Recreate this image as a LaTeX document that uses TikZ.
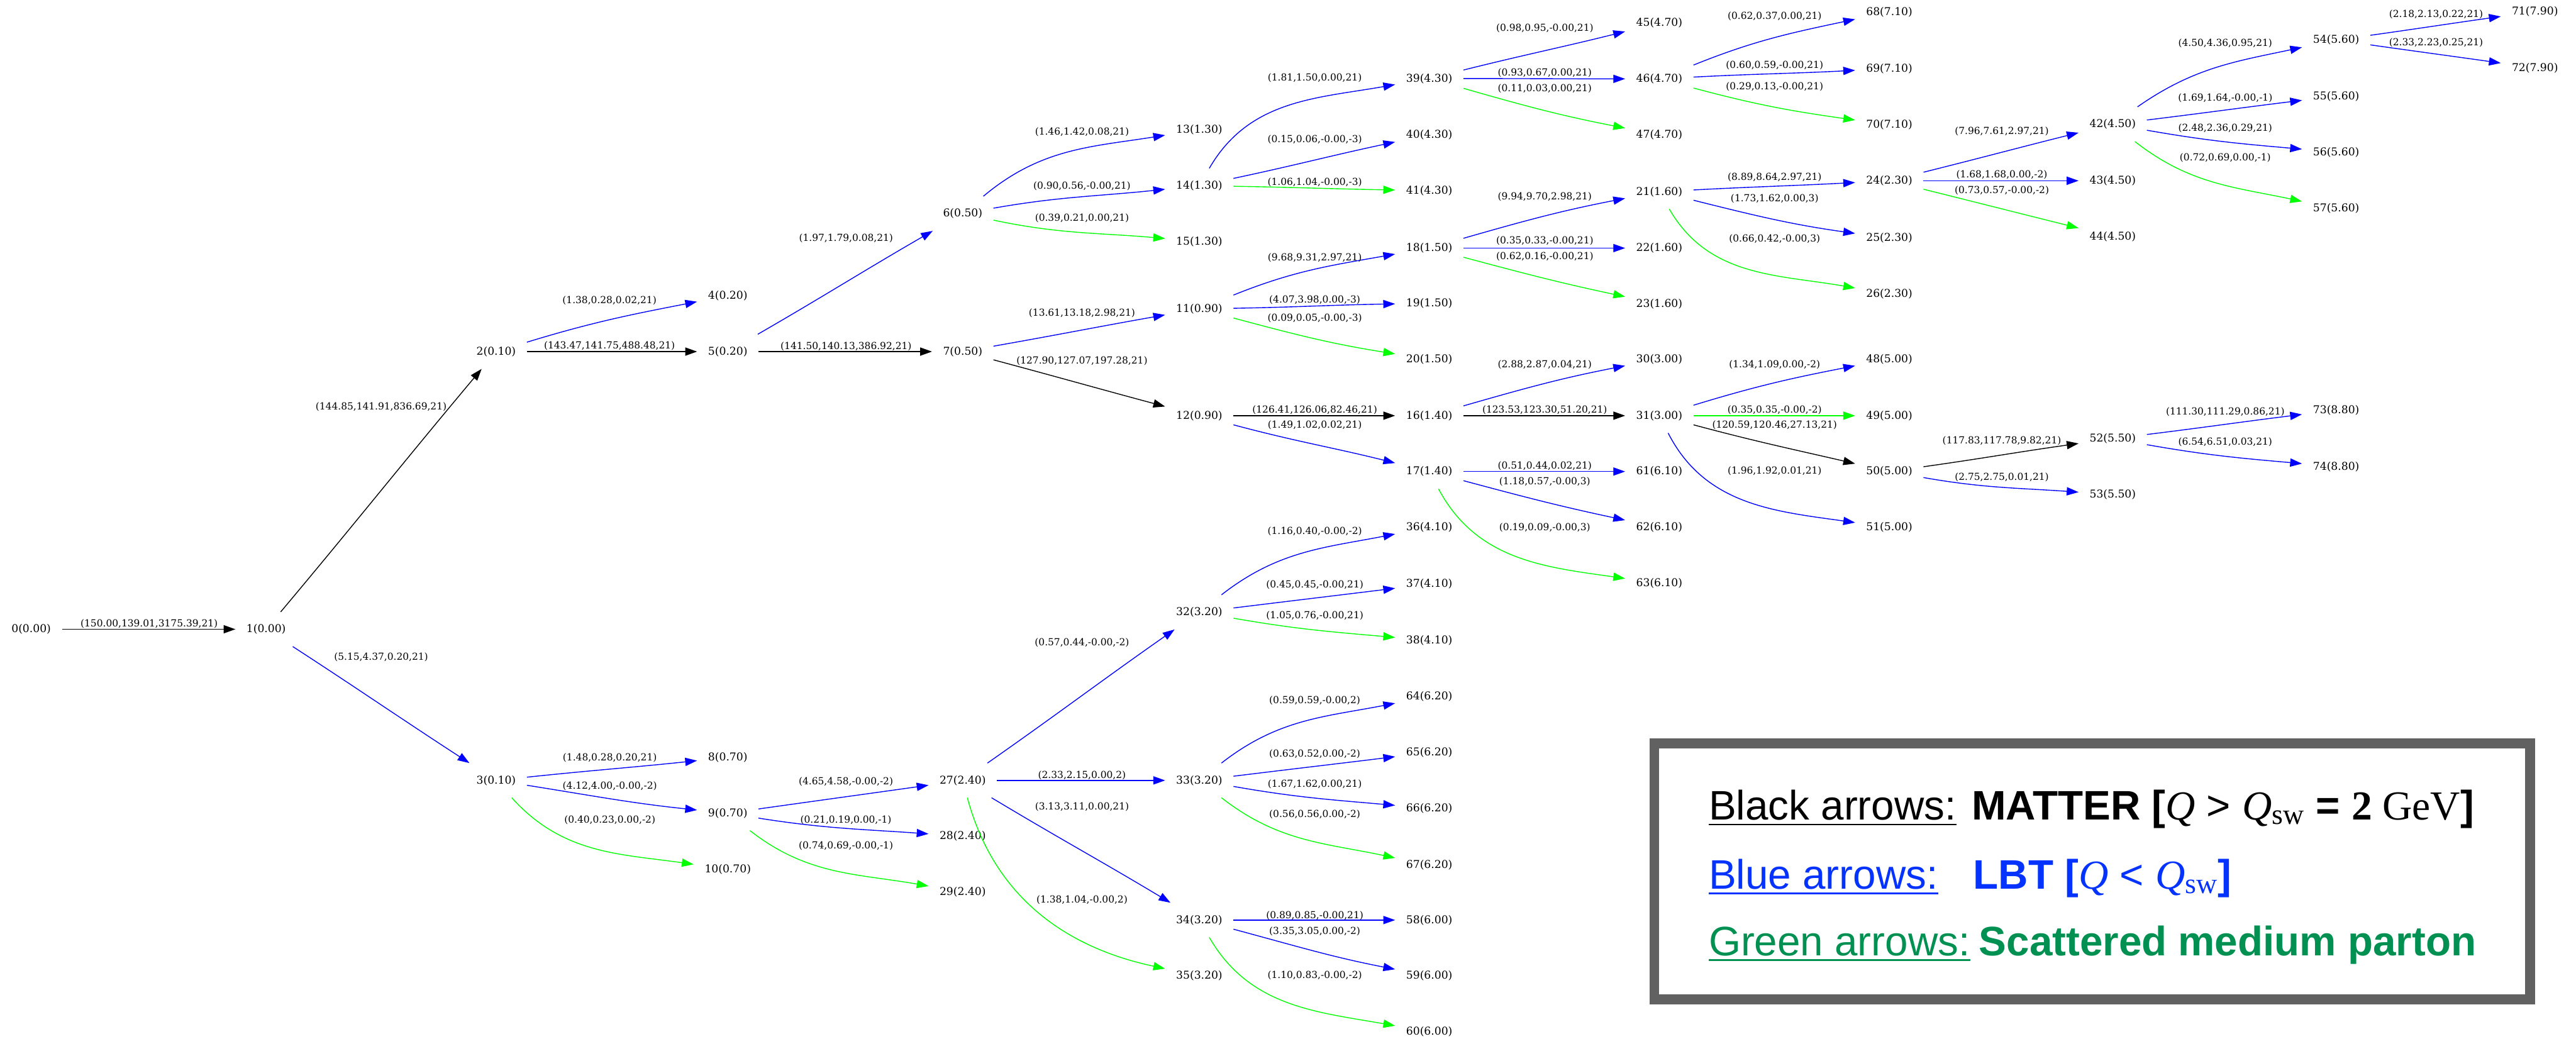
\documentclass[tikz,border=0pt]{standalone}
\usepackage{fontspec}
\setmainfont{Liberation Serif}
\setsansfont{Liberation Sans}
\newfontfamily\gvfont{DejaVu Serif}
\usetikzlibrary{arrows.meta,calc}

\definecolor{lgray}{RGB}{97,97,97}
\definecolor{lblue}{RGB}{4,51,255}
\definecolor{lgreen}{RGB}{0,144,81}

\tikzset{
  nd/.style={font=\gvfont\fontsize{9.35}{11}\selectfont, inner xsep=0.33cm, inner ysep=0.37cm},
  lab/.style={font=\gvfont\fontsize{8.4}{10}\selectfont, inner sep=0pt},
  edge/.style={line width=0.75pt, -{Triangle[length=0.36cm,width=0.25cm]}},
  lgd/.style={font=\sffamily\fontsize{35.7}{40}\selectfont, inner sep=0pt, anchor=base west},
  uline/.style={line width=1.3pt}
}

\begin{document}
\begin{tikzpicture}[x=0.05cm,y=0.05cm]
\useasboundingbox (0,0) rectangle (1568,-632.1);

% partons: id/x/y/time
\foreach \nn/\nx/\ny/\tm in {0/19/383/0.00, 1/162/383/0.00, 2/302/214/0.10, 3/302/475/0.10,
  4/443/180/0.20, 5/443/214/0.20, 6/586/130/0.50, 7/586/214/0.50, 8/443/461/0.70,
  9/443/495/0.70, 10/443/529/0.70, 11/730/188/0.90, 12/730/253/0.90, 13/730/79/1.30,
  14/730/113/1.30, 15/730/147/1.30, 16/870/253/1.40, 17/870/287/1.40, 18/870/151/1.50,
  19/870/184.6/1.50, 20/870/218.7/1.50, 21/1010/116.7/1.60, 22/1010/151/1.60,
  23/1010/185/1.60, 24/1150/110/2.30, 25/1150/145/2.30, 26/1150/179/2.30,
  27/586/475/2.40, 28/586/509/2.40, 29/586/543/2.40, 30/1010/218.6/3.00,
  31/1010/253/3.00, 32/730/372.6/3.20, 33/730/475/3.20, 34/730/560/3.20,
  35/730/594/3.20, 36/870/321/4.10, 37/870/355.5/4.10, 38/870/389.8/4.10,
  39/870/47.8/4.30, 40/870/82/4.30, 41/870/116/4.30, 42/1286/75.6/4.50,
  43/1286/110/4.50, 44/1286/144/4.50, 45/1010/14/4.70, 46/1010/48/4.70,
  47/1010/82/4.70, 48/1150/218.6/5.00, 49/1150/253/5.00, 50/1150/287/5.00,
  51/1150/321/5.00, 52/1286/267/5.50, 53/1286/301/5.50, 54/1422/24.4/5.60,
  55/1422/58.5/5.60, 56/1422/92.6/5.60, 57/1422/127/5.60, 58/870/560/6.00,
  59/870/594/6.00, 60/870/628/6.00, 61/1010/287/6.10, 62/1010/321/6.10,
  63/1010/355/6.10, 64/870/424/6.20, 65/870/458/6.20, 66/870/492/6.20,
  67/870/526.6/6.20, 68/1150/7.3/7.10, 69/1150/41.7/7.10, 70/1150/76/7.10,
  71/1543/7.1/7.90, 72/1543/41.3/7.90, 73/1422/249.7/8.80, 74/1422/284/8.80}
  \node[nd] (n\nn) at (\nx,-\ny) {\nn(\tm)};

% splittings: from/to/colour/out/in/label x/label y/label
\foreach \pa/\ch/\cl/\ao/\ai/\lx/\ly/\lt in {
  0/1/black/0/180/90.8/379.5/{(150.00,139.01,3175.39,21)},
  1/2/black/50/230/232/247.8/{(144.85,141.91,836.69,21)},
  1/3/blue/-33/147/232/400/{(5.15,4.37,0.20,21)},
  2/4/blue/17/191/371/183/{(1.38,0.28,0.02,21)},
  2/5/black/0/180/371/210.5/{(143.47,141.75,488.48,21)},
  5/6/blue/30/210/515/145/{(1.97,1.79,0.08,21)},
  5/7/black/0/180/515/210.7/{(141.50,140.13,386.92,21)},
  6/13/blue/40/189/658.6/80.3/{(1.46,1.42,0.08,21)},
  6/14/blue/10/186/658.6/113.4/{(0.90,0.56,-0.00,21)},
  6/15/green/-12/175/658.6/132.8/{(0.39,0.21,0.00,21)},
  7/11/blue/10/190/658.6/190.6/{(13.61,13.18,2.98,21)},
  7/12/black/-15/165/658.6/219.6/{(127.90,127.07,197.28,21)},
  14/39/blue/60/190/800.3/47.5/{(1.81,1.50,0.00,21)},
  14/40/blue/12/192/800.3/84.8/{(0.15,0.06,-0.00,-3)},
  14/41/green/-1/179/800.3/110.8/{(1.06,1.04,-0.00,-3)},
  11/18/blue/22/190/800.3/156.7/{(9.68,9.31,2.97,21)},
  11/19/blue/1/181/800.3/182.5/{(4.07,3.98,0.00,-3)},
  11/20/green/-15/171/800.3/193.7/{(0.09,0.05,-0.00,-3)},
  12/16/black/0/180/800.3/249.4/{(126.41,126.06,82.46,21)},
  12/17/blue/-15/166/800.3/258.8/{(1.49,1.02,0.02,21)},
  39/45/blue/14/194/940.3/17.2/{(0.98,0.95,-0.00,21)},
  39/46/blue/0/180/940.3/44.2/{(0.93,0.67,0.00,21)},
  39/47/green/-16/169/940.3/53.9/{(0.11,0.03,0.00,21)},
  18/21/blue/16/191/940.3/119.8/{(9.94,9.70,2.98,21)},
  18/22/blue/0/180/940.3/146.6/{(0.35,0.33,-0.00,21)},
  18/23/green/-15/168/940.3/156.2/{(0.62,0.16,-0.00,21)},
  16/30/blue/16/191/940.3/222/{(2.88,2.87,0.04,21)},
  16/31/black/0/180/940.3/249.4/{(123.53,123.30,51.20,21)},
  17/61/blue/0/180/940.3/283.5/{(0.51,0.44,0.02,21)},
  17/62/blue/-15/168/940.3/293/{(1.18,0.57,-0.00,3)},
  17/63/green/-62/172/940.3/321/{(0.19,0.09,-0.00,3)},
  46/68/blue/22/192/1080.2/10/{(0.62,0.37,0.00,21)},
  46/69/blue/3/183/1080.2/39.6/{(0.60,0.59,-0.00,21)},
  46/70/green/-15/172/1080.2/52.7/{(0.29,0.13,-0.00,21)},
  21/24/blue/3/183/1080.2/108/{(8.89,8.64,2.97,21)},
  21/25/blue/-14/172/1080.2/120.8/{(1.73,1.62,0.00,3)},
  21/26/green/-60/170/1080.2/145.4/{(0.66,0.42,-0.00,3)},
  31/48/blue/17/191/1080.2/222/{(1.34,1.09,0.00,-2)},
  31/49/green/0/180/1080.2/249.4/{(0.35,0.35,-0.00,-2)},
  31/50/black/-15/167/1080.2/258.8/{(120.59,120.46,27.13,21)},
  31/51/blue/-63/172/1080.2/286.6/{(1.96,1.92,0.01,21)},
  24/42/blue/14/194/1218.5/79.8/{(7.96,7.61,2.97,21)},
  24/43/blue/0/180/1218.5/106.4/{(1.68,1.68,0.00,-2)},
  24/44/green/-14/166/1218.5/116/{(0.73,0.57,-0.00,-2)},
  50/52/black/8/188/1218.5/268.2/{(117.83,117.78,9.82,21)},
  50/53/blue/-10/176/1218.5/290.3/{(2.75,2.75,0.01,21)},
  42/54/blue/35/192/1354.5/26.5/{(4.50,4.36,0.95,21)},
  42/55/blue/7/187/1354.5/59.6/{(1.69,1.64,-0.00,-1)},
  42/56/blue/-10/175/1354.5/77.9/{(2.48,2.36,0.29,21)},
  42/57/green/-38/168/1354.5/96/{(0.72,0.69,0.00,-1)},
  52/73/blue/7/187/1354.5/250.7/{(111.30,111.29,0.86,21)},
  52/74/blue/-10/175/1354.5/269/{(6.54,6.51,0.03,21)},
  54/71/blue/8/188/1482.8/8.9/{(2.18,2.13,0.22,21)},
  54/72/blue/-8/172/1482.8/26/{(2.33,2.23,0.25,21)},
  3/8/blue/6/186/371.2/461.4/{(1.48,0.28,0.20,21)},
  3/9/blue/-9/174/371.2/478.5/{(4.12,4.00,-0.00,-2)},
  3/10/green/-48/172/371.2/499/{(0.40,0.23,0.00,-2)},
  9/27/blue/8/188/514.9/475.9/{(4.65,4.58,-0.00,-2)},
  9/28/blue/-9/176/514.9/499/{(0.21,0.19,0.00,-1)},
  9/29/green/-38/170/514.9/514.7/{(0.74,0.69,-0.00,-1)},
  27/32/blue/35/215/658.6/391.3/{(0.57,0.44,-0.00,-2)},
  27/33/blue/0/180/658.6/471.8/{(2.33,2.15,0.00,2)},
  27/34/blue/-31/149/658.6/490.9/{(3.13,3.11,0.00,21)},
  27/35/green/-75/168/658.6/547.8/{(1.38,1.04,-0.00,2)},
  32/36/blue/38/191/800.3/323.4/{(1.16,0.40,-0.00,-2)},
  32/37/blue/7/187/800.3/356.1/{(0.45,0.45,-0.00,21)},
  32/38/green/-10/175/800.3/374.8/{(1.05,0.76,-0.00,21)},
  33/64/blue/38/191/800.3/426.3/{(0.59,0.59,-0.00,2)},
  33/65/blue/7/187/800.3/458.9/{(0.63,0.52,0.00,-2)},
  33/66/blue/-10/175/800.3/477.4/{(1.67,1.62,0.00,21)},
  33/67/green/-38/168/800.3/495.5/{(0.56,0.56,0.00,-2)},
  34/58/blue/0/180/800.3/557.3/{(0.89,0.85,-0.00,21)},
  34/59/blue/-15/169/800.3/566.7/{(3.35,3.05,0.00,-2)},
  34/60/green/-60/170/800.3/593.7/{(1.10,0.83,-0.00,-2)}}{
  \draw[edge,color=\cl] (n\pa) to[out=\ao,in=\ai] (n\ch);
  \node[lab] (l\pa-\ch) at (\lx,-\ly) {\lt};
}

% legend
\draw[lgray,line width=0.3cm] (1007,-452.6) rectangle (1540,-608.3);
\node[lgd] (lgk) at (1040,-499) {Black arrows:};
\node[lgd] (lgkm) at (1200,-499) {\bfseries MATTER [\textrm{\mdseries\itshape Q} {\mdseries >} \textrm{\mdseries\itshape Q}\textsubscript{\rmfamily\mdseries sw} = \textrm{2 \mdseries GeV}]};
\node[lgd,lblue] (lbl) at (1040,-541) {Blue arrows:};
\node[lgd,lblue] (lblm) at (1201,-541) {\bfseries LBT [\textrm{\mdseries\itshape Q} {\mdseries <} \textrm{\mdseries\itshape Q}\textsubscript{\rmfamily\mdseries sw}]};
\node[lgd,lgreen] (lgr) at (1040,-581.5) {Green arrows:};
\node[lgd,lgreen] (lgrm) at (1204.5,-581.5) {\bfseries Scattered medium parton};
\draw[uline] ($(lgk.base west)+(0,-2.8)$) -- ($(lgk.base east)+(0,-2.8)$);
\draw[uline,lblue] ($(lbl.base west)+(0,-2.8)$) -- ($(lbl.base east)+(0,-2.8)$);
\draw[uline,lgreen] ($(lgr.base west)+(0,-2.8)$) -- ($(lgr.base east)+(0,-2.8)$);
\end{tikzpicture}
\end{document}
